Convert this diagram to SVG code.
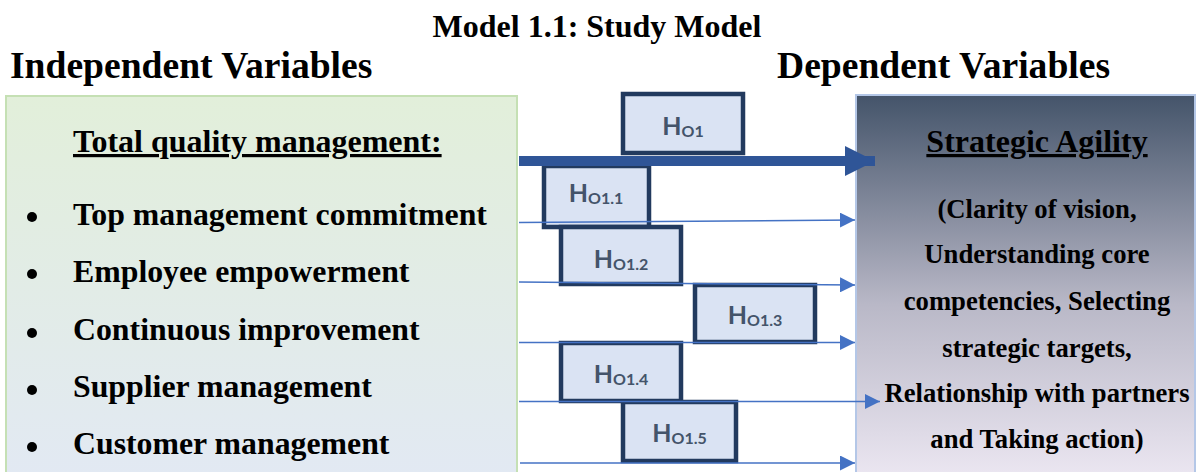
<svg xmlns="http://www.w3.org/2000/svg" width="1197" height="472" viewBox="0 0 1197 472">
<style>
.serif{font-family:"Liberation Serif","Times New Roman",serif;font-weight:bold;fill:#000}
.hdr{font-size:37.6px}
.ttl{font-size:32px}
.head{font-size:32px;text-decoration:underline}
.item{font-size:31.8px}
.desc{font-size:26.67px}
.hbox{fill:#dae3f3;stroke:#223a5e;stroke-width:4.5}
.hlab{font-family:Lato,"Open Sans",sans-serif;font-weight:bold;font-size:25px;fill:#44546a}
.sub{font-size:16px}
.thin{stroke:#4472c4;stroke-width:1.5;fill:none}
.thick{stroke:#2f5597;stroke-width:10;fill:none}
</style>
<defs>
<linearGradient id="gL" x1="0" y1="0" x2="0" y2="1">
<stop offset="0" stop-color="#e2efda"/>
<stop offset="1" stop-color="#e2e9f3"/>
</linearGradient>
<linearGradient id="gR" x1="0" y1="0" x2="0" y2="1">
<stop offset="0" stop-color="#44546a"/>
<stop offset="0.55" stop-color="#b9b8c7"/>
<stop offset="1" stop-color="#ebe6f1"/>
</linearGradient>
<marker id="ah" markerUnits="userSpaceOnUse" markerWidth="15" markerHeight="15" refX="15" refY="7.5" orient="auto">
<path d="M0,0 L15,7.5 L0,15 Z" fill="#4472c4"/>
</marker>
<marker id="ahT" markerUnits="userSpaceOnUse" markerWidth="30" markerHeight="30" refX="30" refY="15" orient="auto">
<path d="M0,0 L30,15 L0,30 Z" fill="#2f5597"/>
</marker>
</defs>
<rect width="1197" height="472" fill="#fff"/>
<text class="serif ttl" x="597" y="37" text-anchor="middle">Model 1.1: Study Model</text>
<text class="serif hdr" x="10" y="78">Independent Variables</text>
<text class="serif hdr" x="777" y="78">Dependent Variables</text>

<g id="independent">
<rect x="6" y="96" width="511" height="380" fill="url(#gL)" stroke="#c5e0b4" stroke-width="2"/>
<text class="serif head" x="73" y="152">Total quality management:</text>
<circle cx="32" cy="217" r="5" fill="#000"/>
<text class="serif item" x="73" y="225">Top management commitment</text>
<circle cx="32" cy="274" r="5" fill="#000"/>
<text class="serif item" x="73" y="282">Employee empowerment</text>
<circle cx="32" cy="333" r="5" fill="#000"/>
<text class="serif item" x="73" y="340">Continuous improvement</text>
<circle cx="32" cy="390" r="5" fill="#000"/>
<text class="serif item" x="73" y="397">Supplier management</text>
<circle cx="32" cy="447" r="5" fill="#000"/>
<text class="serif item" x="73" y="454">Customer management</text>
</g>

<g id="dependent">
<rect x="856" y="95" width="339" height="381" fill="url(#gR)" stroke="#b4c7e7" stroke-width="2"/>
<text class="serif head" x="1037" y="152" text-anchor="middle">Strategic Agility</text>
<text class="serif desc" x="1037" y="218" text-anchor="middle">(Clarity of vision,</text>
<text class="serif desc" x="1037" y="263" text-anchor="middle">Understanding core</text>
<text class="serif desc" x="1037" y="310" text-anchor="middle">competencies, Selecting</text>
<text class="serif desc" x="1037" y="356.5" text-anchor="middle">strategic targets,</text>
<text class="serif desc" x="1037" y="401.5" text-anchor="middle">Relationship with partners</text>
<text class="serif desc" x="1037" y="448" text-anchor="middle">and Taking action)</text>
</g>

<g id="H01">
<rect class="hbox" x="623" y="94" width="120" height="59"/>
<text class="hlab" x="683" y="135" text-anchor="middle">H<tspan class="sub" dy="2">O1</tspan></text>
</g>
<g id="H011">
<rect class="hbox" x="544" y="166" width="105" height="61"/>
<text class="hlab" x="596" y="202" text-anchor="middle">H<tspan class="sub" dy="2">O1.1</tspan></text>
</g>
<g id="H012">
<rect class="hbox" x="561" y="227" width="120" height="57"/>
<text class="hlab" x="621" y="267.5" text-anchor="middle">H<tspan class="sub" dy="2">O1.2</tspan></text>
</g>
<g id="H013">
<rect class="hbox" x="695" y="285" width="120" height="57"/>
<text class="hlab" x="755" y="324" text-anchor="middle">H<tspan class="sub" dy="2">O1.3</tspan></text>
</g>
<g id="H014">
<rect class="hbox" x="561" y="343" width="120" height="58"/>
<text class="hlab" x="621" y="383" text-anchor="middle">H<tspan class="sub" dy="2">O1.4</tspan></text>
</g>
<g id="H015">
<rect class="hbox" x="623" y="402" width="113" height="59"/>
<text class="hlab" x="679.5" y="441.5" text-anchor="middle">H<tspan class="sub" dy="2">O1.5</tspan></text>
</g>

<g id="connectors">
<line class="thick" x1="519" y1="161" x2="875" y2="161" marker-end="url(#ahT)"/>
<line class="thin" x1="519" y1="222.5" x2="855" y2="220" marker-end="url(#ah)"/>
<line class="thin" x1="519" y1="282" x2="855" y2="285" marker-end="url(#ah)"/>
<line class="thin" x1="519" y1="342.5" x2="855" y2="342.5" marker-end="url(#ah)"/>
<line class="thin" x1="519" y1="401.5" x2="880" y2="401.5" marker-end="url(#ah)"/>
<line class="thin" x1="520" y1="463" x2="855" y2="463" marker-end="url(#ah)"/>
</g>
</svg>
